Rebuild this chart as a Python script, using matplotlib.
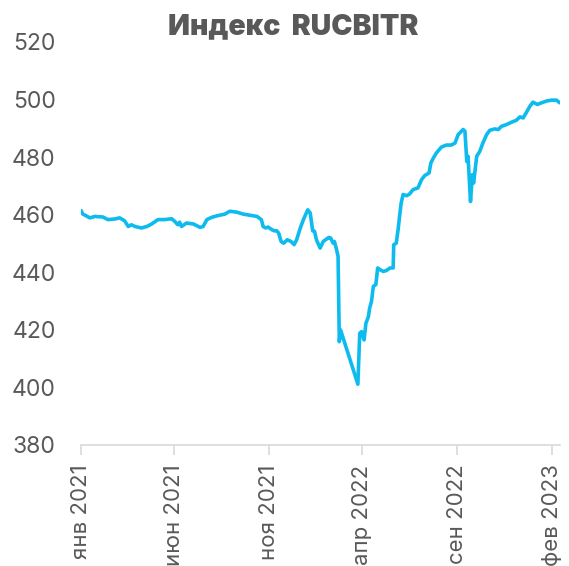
import matplotlib
matplotlib.use("Agg")
import matplotlib.pyplot as plt
import pandas as pd

dates = [
    "2021-01-02", "2021-01-04", "2021-01-16", "2021-01-24", "2021-02-06", "2021-02-14",
    "2021-02-25", "2021-03-05", "2021-03-13", "2021-03-19", "2021-03-24", "2021-03-30",
    "2021-04-09", "2021-04-18", "2021-04-26", "2021-05-06", "2021-05-17", "2021-05-28",
    "2021-06-01", "2021-06-02", "2021-06-07", "2021-06-10", "2021-06-13", "2021-06-21",
    "2021-07-02", "2021-07-13", "2021-07-18", "2021-07-24", "2021-08-01", "2021-08-11",
    "2021-08-22", "2021-08-30", "2021-09-10", "2021-09-21", "2021-10-02", "2021-10-13",
    "2021-10-20", "2021-10-23", "2021-10-27", "2021-10-31", "2021-11-06", "2021-11-10",
    "2021-11-14", "2021-11-17", "2021-11-21", "2021-11-25", "2021-12-01", "2021-12-07",
    "2021-12-12", "2021-12-16", "2021-12-22", "2021-12-27", "2022-01-03", "2022-01-07",
    "2022-01-11", "2022-01-14", "2022-01-17", "2022-01-23", "2022-01-28", "2022-02-06",
    "2022-02-09", "2022-02-13", "2022-02-15", "2022-02-18", "2022-02-21", "2022-02-23",
    "2022-02-25", "2022-03-25", "2022-03-28", "2022-03-31", "2022-04-04", "2022-04-07",
    "2022-04-11", "2022-04-13", "2022-04-16", "2022-04-19", "2022-04-23", "2022-04-26",
    "2022-04-30", "2022-05-05", "2022-05-10", "2022-05-16", "2022-05-21", "2022-05-22",
    "2022-05-26", "2022-05-29", "2022-06-01", "2022-06-03", "2022-06-06", "2022-06-12",
    "2022-06-17", "2022-06-22", "2022-06-30", "2022-07-06", "2022-07-11", "2022-07-18",
    "2022-07-21", "2022-07-25", "2022-07-30", "2022-08-07", "2022-08-15", "2022-08-23",
    "2022-08-29", "2022-09-03", "2022-09-11", "2022-09-14", "2022-09-17", "2022-09-19",
    "2022-09-23", "2022-09-26", "2022-09-28", "2022-10-03", "2022-10-08", "2022-10-13",
    "2022-10-19", "2022-10-24", "2022-11-01", "2022-11-07", "2022-11-12", "2022-11-20",
    "2022-11-28", "2022-12-06", "2022-12-12", "2022-12-17", "2022-12-22", "2022-12-28",
    "2023-01-02", "2023-01-09", "2023-01-16", "2023-01-24", "2023-02-01", "2023-02-09",
    "2023-02-14",
]
values = [
    461.4, 460.3, 458.9, 459.4, 459.2, 458.3,
    458.5, 458.9, 457.9, 455.9, 456.5, 455.9,
    455.4, 455.9, 456.8, 458.3, 458.3, 458.6,
    457.9, 457.7, 456.5, 457.4, 455.9, 457.1,
    456.8, 455.6, 455.9, 458.3, 459.1, 459.7,
    460.2, 461.2, 460.9, 460.2, 459.8, 459.4,
    458.3, 455.9, 455.4, 455.7, 454.8, 454.4,
    454.4, 453.6, 450.7, 450.1, 451.3, 450.7,
    449.6, 451.3, 455.4, 458.3, 461.7, 460.6,
    454.4, 454.2, 451.3, 448.4, 450.7, 452.1,
    451.9, 450.1, 450.7, 448.4, 445.5, 415.9,
    420.0, 401.1, 418.8, 419.4, 416.5, 422.3,
    424.6, 427.5, 429.9, 435.1, 435.7, 441.5,
    440.9, 440.3, 440.6, 441.5, 441.5, 449.6,
    450.1, 454.8, 460.6, 464.1, 467.0, 466.6,
    467.3, 468.7, 469.3, 472.2, 473.6, 474.5,
    478.0, 479.7, 481.5, 483.5, 484.2, 484.2,
    484.9, 487.8, 489.6, 489.0, 478.5, 480.3,
    464.6, 473.9, 471.0, 480.3, 482.0, 484.9,
    487.8, 489.3, 489.8, 489.6, 490.7, 491.3,
    492.1, 492.8, 494.0, 493.6, 495.4, 497.7,
    499.1, 498.3, 498.9, 499.5, 499.8, 499.8,
    498.9,
]

tick_dates = ["2021-01-01", "2021-06-01", "2021-11-01", "2022-04-01", "2022-09-01", "2023-02-01"]
tick_labels = ["янв 2021", "июн 2021", "ноя 2021", "апр 2022", "сен 2022", "фев 2023"]
y_ticks = [380, 400, 420, 440, 460, 480, 500, 520]
title = "Индекс  RUCBITR"

TEXT = "#595959"
LINE = "#0DBBEE"
GRID = "#D9D9D9"
FONT = ["Inter", "Roboto", "DejaVu Sans"]

x = pd.to_datetime(dates)

fig = plt.figure(figsize=(5.69, 5.66), dpi=100)
ax = fig.add_axes([0.1417, 0.2138, 0.9846 - 0.1417, 0.9258 - 0.2138])

ax.plot(x, values, color=LINE, lw=2.6, solid_joinstyle="round", solid_capstyle="round")

ax.set_ylim(380, 520)
ax.set_yticks(y_ticks)
ax.set_xlim(pd.Timestamp("2021-01-01"), pd.Timestamp("2023-02-15"))
ax.set_xticks(pd.to_datetime(tick_dates))
ax.set_xticklabels(tick_labels, rotation=90, ha="center", va="top")

for s in ["left", "right", "top"]:
    ax.spines[s].set_visible(False)
ax.spines["bottom"].set_color(GRID)
ax.spines["bottom"].set_linewidth(1.2)

ax.tick_params(axis="y", length=0, pad=18, labelsize=16.5, labelcolor=TEXT)
ax.tick_params(axis="x", length=7, width=1.2, color=GRID, pad=7, labelsize=16, labelcolor=TEXT)
for lab in ax.get_xticklabels() + ax.get_yticklabels():
    lab.set_fontfamily(FONT)
    lab.set_fontweight("normal")

fig.text(0.515, 0.953, title, ha="center", va="center", fontsize=20.5,
         fontweight="black", color=TEXT, family=FONT)

fig.savefig("out.png", dpi=100)
